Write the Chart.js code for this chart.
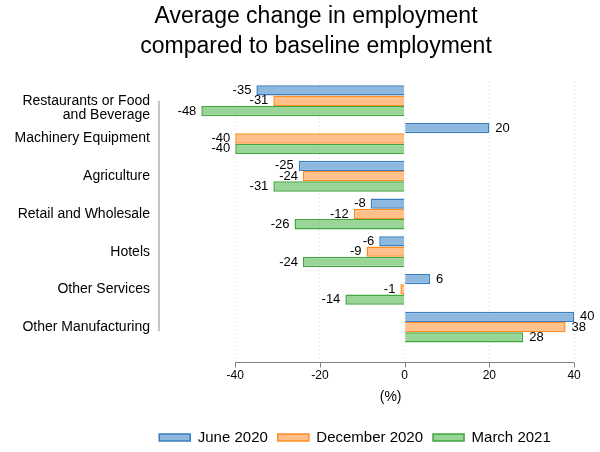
<!DOCTYPE html>
<html lang="en">
<head>
<meta charset="UTF-8">
<title>Average change in employment</title>
<script src="https://cdn.jsdelivr.net/npm/chart.js"></script>
<style>
  html, body { margin: 0; padding: 0; background: #fff; }
  .wrap { width: 600px; height: 452px; }
</style>
</head>
<body>
<div class="wrap"><canvas id="chart" width="600" height="452"></canvas></div>
<script>
// data
// (blank first line keeps "Restaurants or Food" level with its bars, as in the original)
const categories = [["", "Restaurants or Food", "and Beverage"], "Machinery Equipment", "Agriculture",
                    "Retail and Wholesale", "Hotels", "Other Services", "Other Manufacturing"];
const seriesNames = ["June 2020", "December 2020", "March 2021"];
const june2020 = [-35, 20, -25, -8, -6, 6, 40];
const december2020 = [-31, -40, -24, -12, -9, -1, 38];
const march2021 = [-48, -40, -31, -26, -24, -14, 28];
const xTicks = [-40, -20, 0, 20, 40];
const xUnit = "(%)";

const FONT = '"Liberation Sans", Arial, sans-serif';
Chart.defaults.font.family = FONT;
Chart.defaults.color = "#000";

// value labels at the bar ends
const barLabels = {
    id: "barLabels",
    afterDatasetsDraw(chart) {
        const ctx = chart.ctx;
        ctx.save();
        ctx.font = "13px " + FONT;
        ctx.fillStyle = "#000";
        ctx.textBaseline = "middle";
        chart.data.datasets.forEach((ds, i) => {
            chart.getDatasetMeta(i).data.forEach((bar, j) => {
                const v = ds.data[j];
                const neg = v < 0;
                ctx.textAlign = neg ? "right" : "left";
                ctx.fillText(String(v), bar.x + (neg ? -5 : 6), bar.y);
            });
        });
        ctx.restore();
    }
};

// axis lines that only span the tick range, plus the unit label
const axisLines = {
    id: "axisLines",
    afterLayout(chart) {
        // nudge title and legend to where they sit in the original
        const move = (box, cx) => {
            const d = cx - (box.left + box.right) / 2;
            box.left += d; box.right += d;
        };
        move(chart.titleBlock, 316);
        move(chart.legend, 355);
        const dy = 420 - chart.legend.top;
        chart.legend.top += dy; chart.legend.bottom += dy;
    },
    afterDraw(chart) {
        const { ctx, chartArea, scales: { x, y } } = chart;
        ctx.save();
        const ay = Math.round(chartArea.bottom + 16) + 0.5;
        ctx.strokeStyle = "#7f7f7f";
        ctx.lineWidth = 1;
        ctx.beginPath();
        ctx.moveTo(x.getPixelForValue(xTicks[0]), ay);
        ctx.lineTo(x.getPixelForValue(xTicks[xTicks.length - 1]), ay);
        xTicks.forEach(t => {
            const px = Math.round(x.getPixelForValue(t)) + 0.5;
            ctx.moveTo(px, ay);
            ctx.lineTo(px, ay + 5);
        });
        ctx.stroke();

        ctx.strokeStyle = "#b0b0b0";
        ctx.lineWidth = 1.5;
        ctx.beginPath();
        ctx.moveTo(y.right, y.getPixelForValue(0));
        ctx.lineTo(y.right, y.getPixelForValue(categories.length - 1) + 4);
        ctx.stroke();

        ctx.font = "14px " + FONT;
        ctx.fillStyle = "#000";
        ctx.textAlign = "center";
        ctx.textBaseline = "middle";
        ctx.fillText(xUnit, x.getPixelForValue(0) - 14, 397);
        ctx.restore();
    }
};

const colors = [
    { bg: "#8eb9de", border: "#3a7dc0" },
    { bg: "#ffc08c", border: "#ff8c21" },
    { bg: "#99d596", border: "#40a63f" }
];

new Chart(document.getElementById("chart"), {
    type: "bar",
    data: {
        labels: categories,
        datasets: [june2020, december2020, march2021].map((vals, i) => ({
            label: seriesNames[i],
            data: vals,
            backgroundColor: colors[i].bg,
            borderColor: colors[i].border,
            borderWidth: 1.5,
            barPercentage: 1,
            categoryPercentage: 0.82
        }))
    },
    options: {
        indexAxis: "y",
        responsive: false,
        animation: false,
        layout: { padding: { left: 0, right: 9, top: 0, bottom: 0 } },
        plugins: {
            title: {
                display: true,
                text: ["Average change in employment", "compared to baseline employment"],
                font: { size: 23, weight: "normal", lineHeight: 1.28 },
                color: "#000",
                padding: { top: 2, bottom: 21 }
            },
            legend: {
                position: "bottom",
                labels: {
                    boxWidth: 31,
                    boxHeight: 7,
                    padding: 10,
                    font: { size: 15 },
                    color: "#000"
                }
            },
            tooltip: { enabled: false }
        },
        scales: {
            x: {
                min: -58,
                max: 44,
                afterBuildTicks: s => { s.ticks = xTicks.map(v => ({ value: v })); },
                afterFit: s => { s.height = 71; },
                grid: {
                    color: "#d9d9d9",
                    drawTicks: true,
                    tickLength: 16,
                    tickColor: "#d9d9d9",
                    tickBorderDash: [1, 3]
                },
                border: { display: false, dash: [1, 3] },
                ticks: { font: { size: 12 }, color: "#000", padding: 6, maxRotation: 0 }
            },
            y: {
                afterFit: s => { s.width = 159; },
                grid: { display: false, drawTicks: false },
                border: { display: false },
                ticks: { font: { size: 14, lineHeight: 1 }, color: "#000", padding: 9, autoSkip: false }
            }
        }
    },
    plugins: [barLabels, axisLines]
});
</script>
</body>
</html>
